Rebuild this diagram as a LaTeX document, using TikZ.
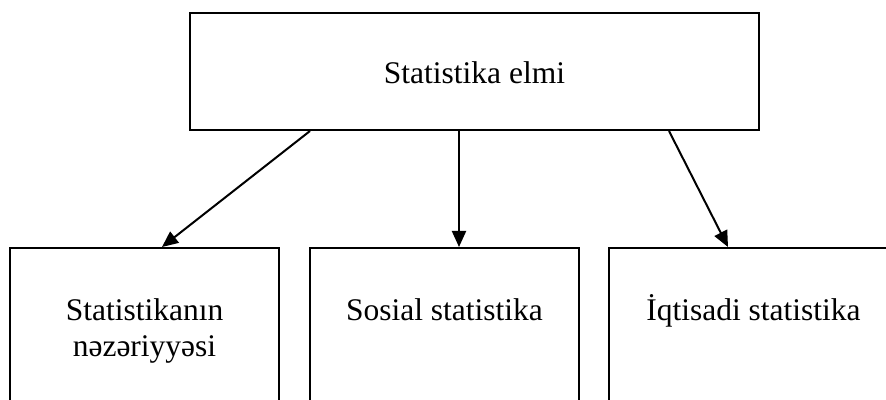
\documentclass[tikz,border=0pt]{standalone}
\usepackage{fontspec}
\setmainfont{Liberation Serif}
\usetikzlibrary{arrows.meta}
\begin{document}
\begin{tikzpicture}[x=1pt,y=1pt,
  box/.style={draw=black, line width=2pt, fill=white, inner sep=0pt},
  lbl/.style={font=\fontsize{31.5}{36}\selectfont, inner sep=0pt, align=center, anchor=base},
  conn/.style={draw=black, line width=2pt, -{Triangle[length=16pt,width=14pt]}}]
\useasboundingbox (0,0) rectangle (886,399);
\clip (0,0) rectangle (886,399);
\fill[white] (0,0) rectangle (886,399);
% top box
\node[box, minimum width=569pt, minimum height=117pt] (top) at (474.5,327.5) {};
\node[lbl] (toptxt) at (474.5,315.7) {Statistika elmi};
% bottom boxes
\node[box, minimum width=269pt, minimum height=200pt, anchor=north] (lbox) at (144.5,152) {};
\node[box, minimum width=269pt, minimum height=200pt, anchor=north] (mbox) at (444.5,152) {};
\node[box, minimum width=289pt, minimum height=200pt, anchor=north] (rbox) at (753.5,152) {};
\node[lbl] (ltxt) at (144.5,42.3) {Statistikanın\\nəzəriyyəsi};
\node[lbl] (mtxt) at (444.5,78.3) {Sosial statistika};
\node[lbl] (rtxt) at (753.5,78.3) {İqtisadi statistika};
% connectors
\draw[conn] ([xshift=-164.5pt]top.south) -- ([xshift=17.5pt]lbox.north);
\draw[conn] ([xshift=-15.5pt]top.south) -- ([xshift=14.5pt]mbox.north);
\draw[conn] ([xshift=194.5pt]top.south) -- ([xshift=-25.5pt]rbox.north);
\end{tikzpicture}
\end{document}
